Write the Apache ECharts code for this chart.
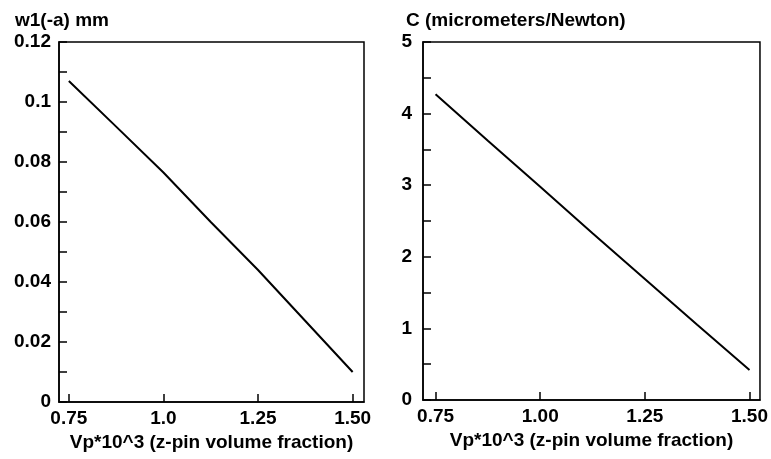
<!DOCTYPE html>
<html>
<head>
<meta charset="utf-8">
<script src="https://cdn.jsdelivr.net/npm/echarts@6/dist/echarts.min.js"></script>
<style>
  html, body { margin: 0; padding: 0; background: #fff; }
  #chart { width: 771px; height: 459px; }
</style>
</head>
<body>
<div id="chart"></div>
<script>
// x: z-pin volume fraction (Vp*10^3)
const vp = [0.75, 0.875, 1.0, 1.125, 1.25, 1.375, 1.5]
// left panel: w1(-a) in mm
const w1 = [0.107, 0.0918, 0.0765, 0.060, 0.044, 0.027, 0.010]
// right panel: compliance C in micrometers/Newton
const compliance = [4.27, 3.62, 2.98, 2.33, 1.69, 1.05, 0.42]
// tick labels on the two x axes
const xTicks = [0.75, 1.0, 1.25, 1.5]
const xLabelsLeft = ['0.75', '1.0', '1.25', '1.50']
const xLabelsRight = ['0.75', '1.00', '1.25', '1.50']

const font = 'Liberation Sans, Arial, sans-serif'
const txt = { color: '#000', fontFamily: font, fontWeight: 'bold', fontSize: 19 }

const chart = echarts.init(document.getElementById('chart'))

function xAxisCfg(gridIndex, min, max, labels) {
  return {
    type: 'value',
    gridIndex: gridIndex,
    min: min,
    max: max,
    name: 'Vp*10^3 (z-pin volume fraction)',
    nameLocation: 'middle',
    nameGap: 24,
    nameTextStyle: txt,
    splitLine: { show: false },
    axisLine: { lineStyle: { color: '#000', width: 1.5 } },
    axisTick: { inside: true, length: 8, customValues: xTicks, lineStyle: { color: '#000', width: 1.5 } },
    axisLabel: {
      customValues: xTicks,
      margin: 7,
      ...txt,
      formatter: function(v) {
        const i = xTicks.findIndex(t => Math.abs(t - v) < 1e-9)
        return i >= 0 ? labels[i] : ''
      }
    }
  }
}

function yAxisCfg(gridIndex, max, interval, margin) {
  return {
    type: 'value',
    gridIndex: gridIndex,
    min: 0,
    max: max,
    interval: interval,
    splitLine: { show: false },
    axisLine: { lineStyle: { color: '#000', width: 1.5 } },
    axisTick: { inside: true, length: 8, lineStyle: { color: '#000', width: 1.5 } },
    minorTick: { show: true, splitNumber: 2, length: 8, lineStyle: { color: '#000', width: 1.5 } },
    minorSplitLine: { show: false },
    axisLabel: { margin: margin, ...txt }
  }
}

chart.setOption({
  backgroundColor: '#fff',
  animation: false,
  title: [
    { text: 'w1(-a) mm', left: 10, top: 6, textStyle: txt },
    { text: 'C (micrometers/Newton)', left: 401, top: 6, textStyle: txt }
  ],
  grid: [
    { left: 59, top: 42, width: 305, height: 360, show: true, borderColor: '#000', borderWidth: 1.5 },
    { left: 423, top: 42, width: 339, height: 358, show: true, borderColor: '#000', borderWidth: 1.5 }
  ],
  xAxis: [
    xAxisCfg(0, 0.724, 1.53, xLabelsLeft),
    xAxisCfg(1, 0.72, 1.525, xLabelsRight)
  ],
  yAxis: [
    yAxisCfg(0, 0.12, 0.02, 8),
    yAxisCfg(1, 5, 1, 11)
  ],
  series: [
    {
      type: 'line',
      xAxisIndex: 0,
      yAxisIndex: 0,
      data: vp.map((x, i) => [x, w1[i]]),
      showSymbol: false,
      lineStyle: { color: '#000', width: 2 }
    },
    {
      type: 'line',
      xAxisIndex: 1,
      yAxisIndex: 1,
      data: vp.map((x, i) => [x, compliance[i]]),
      showSymbol: false,
      lineStyle: { color: '#000', width: 2 }
    }
  ]
})
</script>
</body>
</html>
